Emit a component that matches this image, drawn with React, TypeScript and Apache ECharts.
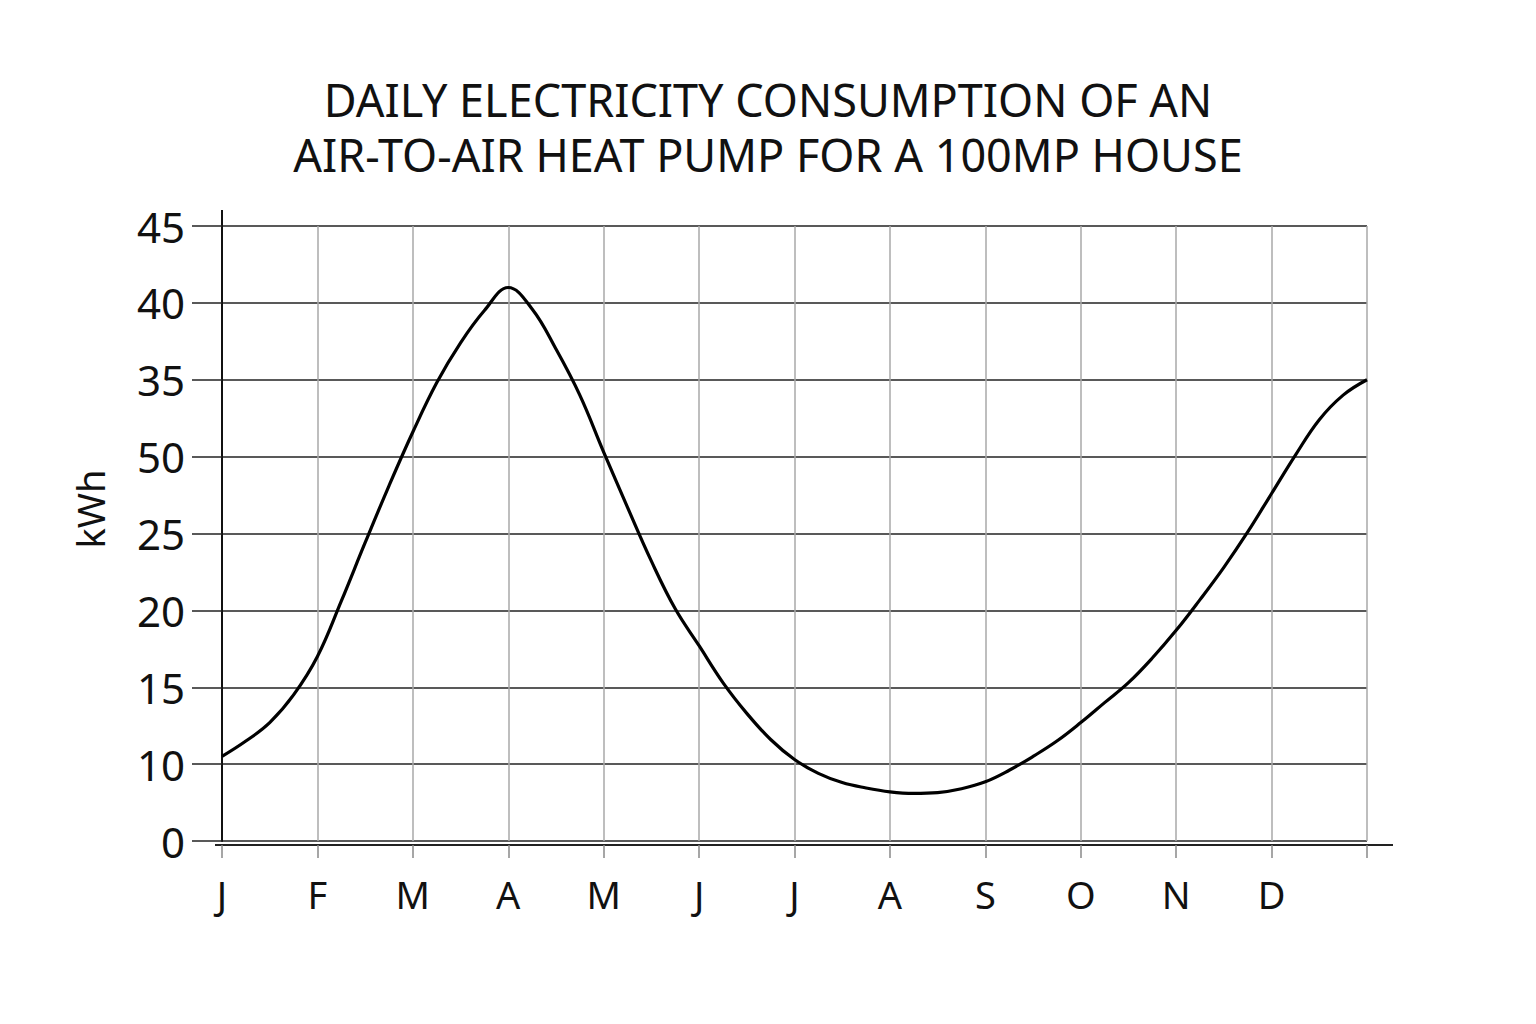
import React, { useEffect, useRef } from 'react'
import * as echarts from 'echarts'

// month ticks (last tick closes the year, no label)
const monthLabels = ['J', 'F', 'M', 'A', 'M', 'J', 'J', 'A', 'S', 'O', 'N', 'D', '']
// y tick labels as printed on the chart (bottom to top)
const yTickLabels = ['0', '10', '15', '20', '25', '50', '35', '40', '45']
const yTickValues = [5, 10, 15, 20, 25, 30, 35, 40, 45]

// position in months from start of January
const monthPos = [
  0, 0.25, 0.5, 0.75, 1, 1.25, 1.5, 1.75, 2, 2.25, 2.5, 2.75, 3,
  3.25, 3.5, 3.75, 4, 4.25, 4.5, 4.75, 5, 5.25, 5.5, 5.75, 6,
  6.25, 6.5, 6.75, 7, 7.25, 7.5, 7.75, 8, 8.25, 8.5, 8.75, 9,
  9.25, 9.5, 9.75, 10, 10.25, 10.5, 10.75, 11, 11.25, 11.5, 11.75, 12
]
// daily consumption, kWh
const kwh = [
  10.5, 11.5, 12.7, 14.5, 17.0, 20.6, 24.4, 28.1, 31.6, 34.8, 37.4, 39.5, 41.0,
  39.6, 37.0, 34.0, 30.3, 26.7, 23.2, 20.1, 17.7, 15.3, 13.3, 11.6, 10.3,
  9.4, 8.8, 8.45, 8.2, 8.1, 8.15, 8.4, 8.85, 9.6, 10.5, 11.5, 12.7,
  14.0, 15.3, 16.9, 18.7, 20.7, 22.8, 25.1, 27.6, 30.1, 32.4, 34.0, 35.0
]

const titleLines = ['DAILY ELECTRICITY CONSUMPTION OF AN', 'AIR-TO-AIR HEAT PUMP FOR A 100MP HOUSE']
const font = '"Noto Sans", "Open Sans", sans-serif'

export default function App() {
  const ref = useRef<HTMLDivElement | null>(null)

  useEffect(() => {
    if (!ref.current) return
    const chart = echarts.init(ref.current, null, { renderer: 'svg' })

    const titleStyle = { fontFamily: font, fontSize: 45, fontWeight: 'normal' as const, color: '#111' }

    const opt: echarts.EChartsOption = {
      animation: false,
      backgroundColor: '#fff',
      title: [
        { text: titleLines[0], left: 'center', top: 72, textStyle: titleStyle },
        { text: titleLines[1], left: 'center', top: 127, textStyle: titleStyle }
      ],
      grid: { left: 222, right: 169, top: 226, bottom: 183 },
      xAxis: {
        type: 'value',
        min: 0,
        max: 12,
        interval: 1,
        offset: 4,
        axisLine: { lineStyle: { color: '#222', width: 2 } },
        axisTick: { length: 13, lineStyle: { color: '#888', width: 1.5 } },
        axisLabel: {
          margin: 30,
          fontFamily: font,
          fontSize: 38,
          color: '#111',
          formatter: (v: number) => monthLabels[Math.round(v)] ?? ''
        },
        splitLine: { show: true, lineStyle: { color: '#a8a8a8', width: 1.5 } }
      },
      yAxis: {
        type: 'value',
        min: 5,
        max: 45,
        interval: 5,
        axisLine: { show: true, lineStyle: { color: '#111', width: 2 } },
        axisTick: { show: true, length: 30, lineStyle: { color: '#222', width: 1.5 } },
        axisLabel: {
          margin: 37,
          fontFamily: font,
          fontSize: 42,
          color: '#111',
          formatter: (v: number) => yTickLabels[yTickValues.indexOf(v)] ?? ''
        },
        splitLine: { show: true, lineStyle: { color: '#222', width: 1.5 } }
      },
      graphic: [
        {
          type: 'text',
          x: 90,
          y: 509,
          rotation: Math.PI / 2,
          style: {
            text: 'kWh',
            fontFamily: font,
            fontSize: 38,
            fill: '#111',
            align: 'center',
            verticalAlign: 'middle'
          }
        },
        { type: 'line', shape: { x1: 222, y1: 210, x2: 222, y2: 226 }, style: { stroke: '#111', lineWidth: 2 } },
        { type: 'line', shape: { x1: 215, y1: 845, x2: 1393, y2: 845 }, style: { stroke: '#222', lineWidth: 2 } }
      ],
      series: [
        {
          type: 'line',
          data: monthPos.map((p, i) => [p, kwh[i]]),
          smooth: 0.4,
          showSymbol: false,
          lineStyle: { color: '#000', width: 3.2 }
        }
      ]
    }

    chart.setOption(opt)
    const onResize = () => chart.resize()
    window.addEventListener('resize', onResize)
    return () => { window.removeEventListener('resize', onResize); chart.dispose() }
  }, [])

  return (
    <div
      ref={ref}
      style={{ position: 'fixed', left: 0, top: 0, width: '100vw', height: '100vh', background: '#fff' }}
    />
  )
}
